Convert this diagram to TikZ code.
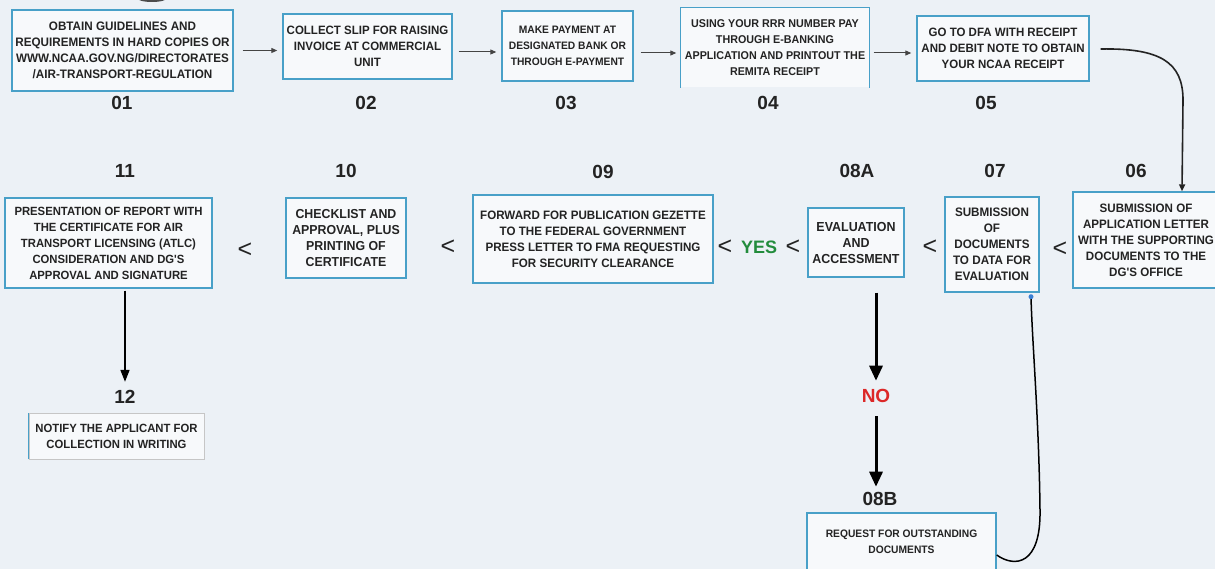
\documentclass[tikz,border=0pt]{standalone}
\usepackage{fontspec}
\setmainfont{Liberation Sans}
\newfontfamily\cnd{Liberation Sans}[FakeStretch=0.95]
\usetikzlibrary{arrows.meta}
\definecolor{bg}{RGB}{236,241,246}
\definecolor{boxf}{RGB}{247,249,251}
\definecolor{bordc}{RGB}{72,160,200}
\definecolor{ink}{RGB}{35,35,35}
\definecolor{yesg}{RGB}{34,140,60}
\definecolor{nor}{RGB}{220,40,40}
\begin{document}
\begin{tikzpicture}[x=1pt,y=-1pt,
  box/.style={draw=bordc, line width=1.4pt, fill=boxf, inner sep=0pt, align=center, text=ink},
  bt/.style={font=\cnd\bfseries\fontsize{#1}{16}\selectfont},
  num/.style={font=\bfseries\fontsize{19}{19}\selectfont, text=ink},
  lt/.style={font=\fontsize{25}{25}\selectfont, text=ink},
  arr/.style={draw=ink!85, line width=1pt, -{Triangle[length=6pt,width=5pt]}},
  bigarr/.style={draw=black, line width=3pt, -{Triangle[length=15pt,width=13pt]}},
  midarr/.style={draw=black, line width=1.5pt, -{Triangle[length=12pt,width=9pt]}}
]
\useasboundingbox (0,0) rectangle (1215,569);
\clip (0,0) rectangle (1215,569);
\fill[bg] (0,0) rectangle (1215,569);
\fill[gray!60!black] (152,-2) ellipse (15 and 4);

% top row
\node[box, bt=12.3, minimum width=221pt, minimum height=81pt] (b01) at (122.5,50.5)
  {OBTAIN GUIDELINES AND\\REQUIREMENTS IN HARD COPIES OR\\WWW.NCAA.GOV.NG/DIRECTORATES\\/AIR-TRANSPORT-REGULATION};
\node[box, bt=12.1, minimum width=169pt, minimum height=65pt] (b02) at (367.5,46.5)
  {COLLECT SLIP FOR RAISING\\INVOICE AT COMMERCIAL\\UNIT};
\node[box, bt=10.8, minimum width=131pt, minimum height=70pt] (b03) at (567.5,46)
  {MAKE PAYMENT AT\\DESIGNATED BANK OR\\THROUGH E-PAYMENT};
\node[box, draw=none, bt=11.3, minimum width=188pt, minimum height=79pt] (b04) at (775,47.5)
  {USING YOUR RRR NUMBER PAY\\THROUGH E-BANKING\\APPLICATION AND PRINTOUT THE\\REMITA RECEIPT};
\draw[bordc, line width=1.4pt] (b04.south west) -- (b04.north west) -- (b04.north east) -- (b04.south east);
\node[box, bt=12.1, minimum width=172pt, minimum height=65pt] (b05) at (1003,48.5)
  {GO TO DFA WITH RECEIPT\\AND DEBIT NOTE TO OBTAIN\\YOUR NCAA RECEIPT};

\node[num] (n01) at (122,103) {01};
\node[num] (n02) at (366,103) {02};
\node[num] (n03) at (566,103) {03};
\node[num] (n04) at (768,103) {04};
\node[num] (n05) at (986,103) {05};

\draw[arr] ([xshift=9pt]b01.east) -- ([xshift=-5pt]b02.west |- b01.east);
\draw[arr] ([xshift=6pt]b02.east |- 0,52) -- ([xshift=-5pt]b03.west |- 0,52);
\draw[arr] ([xshift=7pt]b03.east |- 0,53) -- ([xshift=-4pt]b04.west |- 0,53);
\draw[arr] ([xshift=4pt]b04.east |- 0,53) -- ([xshift=-5pt]b05.west |- 0,53);

% second row
\node[box, bt=12.2, minimum width=146pt, minimum height=96pt] (b06) at (1146,240)
  {SUBMISSION OF\\APPLICATION LETTER\\WITH THE SUPPORTING\\DOCUMENTS TO THE\\DG'S OFFICE};
\node[box, bt=12.3, minimum width=94pt, minimum height=95pt] (b07) at (992,244.5)
  {SUBMISSION\\OF\\DOCUMENTS\\TO DATA FOR\\EVALUATION};
\node[box, bt=13.1, minimum width=96pt, minimum height=69pt] (b08a) at (856,242.5)
  {EVALUATION\\AND\\ACCESSMENT};
\node[box, bt=12.2, minimum width=240pt, minimum height=88pt] (b09) at (593,239)
  {FORWARD FOR PUBLICATION GEZETTE\\TO THE FEDERAL GOVERNMENT\\PRESS LETTER TO FMA REQUESTING\\FOR SECURITY CLEARANCE};
\node[box, bt=13, minimum width=120pt, minimum height=80pt] (b10) at (346,238)
  {CHECKLIST AND\\APPROVAL, PLUS\\PRINTING OF\\CERTIFICATE};
\node[box, bt=11.9, minimum width=207pt, minimum height=90pt] (b11) at (108.5,243)
  {PRESENTATION OF REPORT WITH\\THE CERTIFICATE FOR AIR\\TRANSPORT LICENSING (ATLC)\\CONSIDERATION AND DG'S\\APPROVAL AND SIGNATURE};

\node[num] (n06) at (1136,171) {06};
\node[num] (n07) at (995,171) {07};
\node[num] (n08a) at (857,171) {08A};
\node[num] (n09) at (603,172) {09};
\node[num] (n10) at (346,171) {10};
\node[num] (n11) at (125,171) {11};

\node[lt] (l1) at (1060,249) {<};
\node[lt] (l2) at (930,247) {<};
\node[lt] (l3) at (725,247) {<};
\node[font=\bfseries\fontsize{18}{18}\selectfont, text=yesg] (yes) at (759,247) {YES};
\node[lt] (l4) at (793,247) {<};
\node[lt] (l5) at (448,247) {<};
\node[lt] (l6) at (245,250) {<};

% curve 05 -> 06
\draw[draw=ink, line width=1.6pt, -{Triangle[length=7pt,width=6pt]}]
  ([xshift=11pt]b05.east |- 0,49) .. controls (1160,48) and (1183,62) .. (1183,100)
  -- (b06.north -| 1182,0);

% 11 -> 12
\node[box, draw=gray!45, line width=0.6pt, bt=11.9, minimum width=175pt, minimum height=46pt] (b12) at (116.5,436)
  {NOTIFY THE APPLICANT FOR\\COLLECTION IN WRITING};
\draw[bordc, line width=1.4pt] (b12.south west) -- (b12.north west);
\node[num] (n12) at (125,397) {12};
\draw[midarr] (b11.south -| 125,0) ++(0,2) -- ([yshift=5pt]n12.north);

% 08A -> NO -> 08B
\node[font=\bfseries\fontsize{19}{19}\selectfont, text=nor] (no) at (876,396) {NO};
\draw[bigarr] ([yshift=-15pt]b08a.south -| no) -- ([yshift=5pt]no.north);
\node[box, bt=10.8, minimum width=189pt, minimum height=58pt] (b08b) at (901.5,542)
  {REQUEST FOR OUTSTANDING\\DOCUMENTS};
\node[num] (n08b) at (880,499) {08B};
\draw[bigarr] ([yshift=-10pt]no.south) -- ([yshift=2pt]n08b.north -| no);

% 08B -> 07
\draw[draw=black, line width=1.5pt]
  (b08b.east |- 0,555) .. controls (1015,568) and (1041,565) .. (1040,510)
  .. controls (1039,420) and (1032,340) .. ([yshift=-4pt]b07.south -| 1031,0);
\fill[bordc!80!blue] ([yshift=-4pt]b07.south -| 1031,0) circle (2.5pt);
\end{tikzpicture}
\end{document}
